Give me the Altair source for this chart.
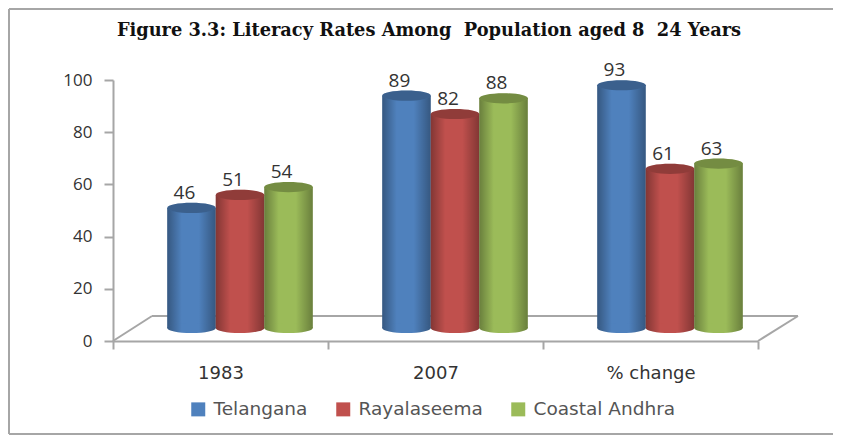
import altair as alt
import pandas as pd

categories = ["1983", "2007", "% change"]
series = ["Telangana", "Rayalaseema", "Coastal Andhra"]
telangana = [46, 89, 93]
rayalaseema = [51, 82, 61]
coastal = [54, 88, 63]
colors = ["#4F81BD", "#C0504D", "#9BBB59"]
y_ticks = [0, 20, 40, 60, 80, 100]
title_text = "Figure 3.3: Literacy Rates Among\u00a0 Population aged 8\u00a0 24 Years"

rows = []
for name, vals in zip(series, [telangana, rayalaseema, coastal]):
    for c, v in zip(categories, vals):
        rows.append({"category": c, "series": name, "value": v, "base": 0})
df = pd.DataFrame(rows)

GRAY = "#A6A6A6"
SHIFT_Y = -13
ELLIPSE = "M-1,0 A1,0.21 0 1,1 1,0 A1,0.21 0 1,1 -1,0 Z"
CAP_SIZE = 48.5 ** 2
PAD = dict(paddingInner=0.323, paddingOuter=0.1615)

# axis layer uses full-width bands; cylinders use padded bands pushed back into the 3-D depth
x_axis = alt.X(
    "category:N",
    sort=categories,
    title=None,
    scale=alt.Scale(paddingInner=0, paddingOuter=0),
    axis=alt.Axis(
        labelAngle=0, labelFont="DejaVu Sans", labelFontSize=18, labelColor="#333333",
        domainColor=GRAY, domainWidth=2, tickColor=GRAY, tickWidth=2, tickSize=8,
        tickBand="extent", labelPadding=15,
    ),
)
x_bar = alt.X("category:N", sort=categories, title=None, axis=None, scale=alt.Scale(range=[19.5, 664.5], **PAD))
x_off = alt.XOffset("series:N", sort=series, scale=alt.Scale(paddingInner=0, paddingOuter=0))
y_scale = alt.Scale(domain=[0, 100], nice=False)
y_axis = alt.Axis(
    values=y_ticks, grid=False, labelFont="Open Sans", labelFontSize=17, labelColor="#333333",
    domainColor=GRAY, domainWidth=2, tickColor=GRAY, tickWidth=2, tickSize=9, labelPadding=12,
)
y_enc = alt.Y("value:Q", title=None, scale=y_scale, axis=y_axis)
y_base = alt.Y("base:Q", title=None, scale=y_scale, axis=y_axis)
color_enc = alt.Color(
    "series:N",
    sort=series,
    scale=alt.Scale(domain=series, range=colors),
    legend=alt.Legend(
        orient="none", legendX=76, legendY=320, direction="horizontal", columns=3, title=None,
        symbolType="square", symbolSize=196, symbolStrokeWidth=0, labelFont="DejaVu Sans",
        labelFontSize=18.5, labelColor="#555555", labelOffset=6, columnPadding=26,
    ),
)

shade = alt.LinearGradient(
    gradient="linear", x1=0, x2=1, y1=0, y2=0,
    stops=[
        alt.GradientStop(offset=0, color="rgba(0,0,0,0.32)"),
        alt.GradientStop(offset=0.3, color="rgba(0,0,0,0)"),
        alt.GradientStop(offset=0.65, color="rgba(0,0,0,0)"),
        alt.GradientStop(offset=1, color="rgba(0,0,0,0.32)"),
    ],
)

base = alt.Chart(df)
one = alt.Data(values=[{"a": 1}])


def edge(x, x2, y, y2):
    return alt.Chart(one).mark_rule(color=GRAY, strokeWidth=2).encode(
        x=alt.value(x), x2=alt.value(x2), y=alt.value(y), y2=alt.value(y2)
    )


floor = [edge(39, 685, 236, 236), edge(0, 39, 261, 236), edge(645, 685, 261, 236)]
border = [edge(-104, 720, -71, -71), edge(-104, -104, -71, 354), edge(-104, 720, 354, 354)]
cap = dict(shape=ELLIPSE, filled=True, size=CAP_SIZE, yOffset=SHIFT_Y)

title_layer = alt.Chart(one).mark_text(
    text=title_text, font="DejaVu Serif", fontSize=17.8, fontWeight="bold", color="#111111",
    align="center", baseline="alphabetic",
).encode(x=alt.value(316), y=alt.value(-44))

layers = border + floor + [
    base.mark_bar(opacity=0).encode(x=x_axis, y=y_enc),
    base.mark_bar(yOffset=SHIFT_Y, y2Offset=SHIFT_Y).encode(
        x=x_bar, xOffset=x_off, y=y_enc, y2=alt.Y2("base:Q"), color=color_enc
    ),
    base.mark_bar(yOffset=SHIFT_Y, y2Offset=SHIFT_Y, color=shade).encode(
        x=x_bar, xOffset=x_off, y=y_enc, y2=alt.Y2("base:Q")
    ),
    base.mark_point(opacity=1, **cap).encode(x=x_bar, xOffset=x_off, y=y_base, color=color_enc),
    base.mark_point(opacity=1, color=shade, **cap).encode(x=x_bar, xOffset=x_off, y=y_base),
    base.mark_point(opacity=1, **cap).encode(x=x_bar, xOffset=x_off, y=y_enc, color=color_enc),
    base.mark_point(opacity=0.25, color="#000000", **cap).encode(x=x_bar, xOffset=x_off, y=y_enc),
    base.mark_text(font="Open Sans", fontSize=19, color="#333333", dx=-7, dy=-28, baseline="middle").encode(
        x=x_bar, xOffset=x_off, y=y_enc, text=alt.Text("value:Q")
    ),
    title_layer,
]

chart = alt.layer(*layers).resolve_scale(x="independent").properties(
    width=645,
    height=261,
    padding={"left": 105, "top": 72, "right": 75, "bottom": 94},
    autosize=alt.AutoSizeParams(type="none"),
).configure_view(stroke=None)

chart.save("out.html", embed_options={"renderer": "svg", "actions": False})
